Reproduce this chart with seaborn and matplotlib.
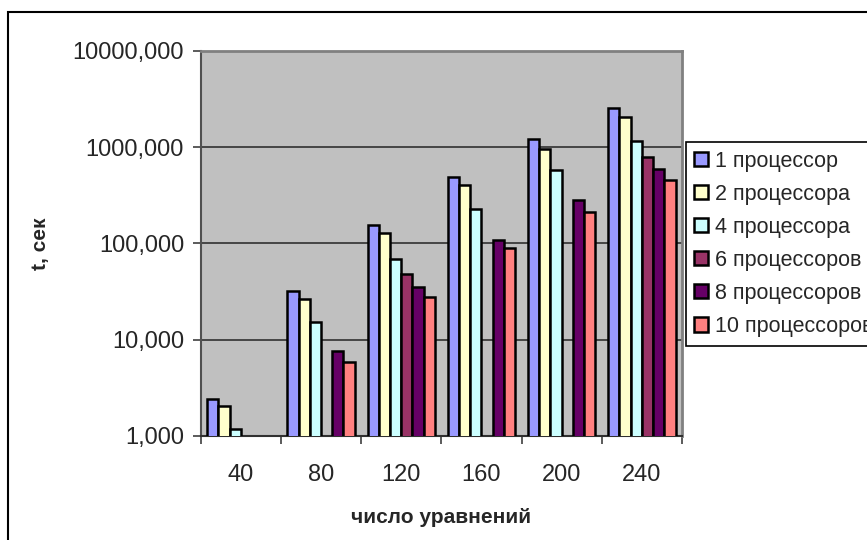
import numpy as np
import pandas as pd
import seaborn as sns
import matplotlib
matplotlib.use("Agg")
import matplotlib.pyplot as plt
from matplotlib.patches import Patch, Rectangle
from matplotlib.ticker import FixedLocator, FuncFormatter

# Число уравнений (категории по оси X)
equations = ["40", "80", "120", "160", "200", "240"]

# Время решения, сек (nan — нет измерения)
proc_1 = [2.42, 32.3, 156.0, 486.0, 1213.0, 2547.0]
proc_2 = [2.06, 26.7, 130.0, 404.0, 962.0, 2070.0]
proc_4 = [1.17, 15.2, 69.0, 226.0, 574.0, 1165.0]
proc_6 = [np.nan, np.nan, 48.5, np.nan, np.nan, 789.0]
proc_8 = [np.nan, 7.6, 35.5, 110.0, 284.0, 593.0]
proc_10 = [np.nan, 5.9, 27.7, 89.0, 210.0, 455.0]

series_names = ["1 процессор", "2 процессора", "4 процессора",
                "6 процессоров", "8 процессоров", "10 процессоров"]
series_values = [proc_1, proc_2, proc_4, proc_6, proc_8, proc_10]
series_colors = ["#9999FF", "#FFFFCC", "#CCFFFF", "#993366", "#660066", "#FF8080"]

rows = []
for name, vals in zip(series_names, series_values):
    for eq, v in zip(equations, vals):
        if not np.isnan(v):
            rows.append({"n": eq, "series": name, "t": v})
df = pd.DataFrame(rows)

sns.set_theme(style="white")
plt.rcParams["font.family"] = ["Liberation Sans", "DejaVu Sans"]

fig = plt.figure(figsize=(8.67, 5.40), dpi=100)
ax = fig.add_axes([0.2315, 0.1926, 0.7866 - 0.2315, 0.9056 - 0.1926])
ax.set_yscale("log")

palette = dict(zip(series_names, series_colors))
sns.barplot(data=df, x="n", y="t", hue="series", order=equations,
            hue_order=series_names, palette=palette, width=0.84,
            edgecolor="black", linewidth=1.8, saturation=1.0,
            ax=ax, legend=False, zorder=3)

ax.set_facecolor("#C0C0C0")
ax.set_ylim(1, 10000)
ax.set_xlim(-0.5, len(equations) - 0.5)

# Ось Y: деления по декадам с запятой как десятичным разделителем
ax.yaxis.set_major_locator(FixedLocator([1, 10, 100, 1000, 10000]))
ax.yaxis.set_minor_locator(FixedLocator([]))
ax.yaxis.set_major_formatter(FuncFormatter(lambda v, p: f"{v:.3f}".replace(".", ",")))
ax.grid(axis="y", which="major", color="#303030", linewidth=1.2, zorder=1)
ax.set_axisbelow(True)

# Ось X: подписи по центру категорий, засечки на границах
ax.xaxis.set_minor_locator(FixedLocator(np.arange(-0.5, len(equations), 1.0)))
ax.tick_params(axis="x", which="major", length=0, pad=20, labelsize=17)
ax.tick_params(axis="x", which="minor", length=6, width=1.2, color="#404040",
               direction="out", bottom=True)
ax.tick_params(axis="y", which="major", length=6, width=1.2, color="#404040",
               direction="out", left=True, pad=6, labelsize=17)

for side in ["top", "right"]:
    ax.spines[side].set_color("#808080")
    ax.spines[side].set_linewidth(2)
ax.spines["left"].set_color("#505050")
ax.spines["left"].set_linewidth(1.5)
ax.spines["bottom"].set_color("#303030")
ax.spines["bottom"].set_linewidth(1.5)

ax.set_xlabel("число уравнений", fontsize=15, fontweight="bold", labelpad=16)
ax.set_ylabel("t, сек", fontsize=15, fontweight="bold", labelpad=16)

handles = [Patch(facecolor=c, edgecolor="black", linewidth=1.8) for c in series_colors]
leg = fig.legend(handles, series_names, loc="upper left",
                 bbox_to_anchor=(0.791, 0.737), fontsize=15.5,
                 frameon=True, fancybox=False, framealpha=1,
                 handlelength=0.65, handleheight=0.65, handletextpad=0.3,
                 labelspacing=0.56, borderpad=0.4, borderaxespad=0)
leg.get_frame().set_edgecolor("black")
leg.get_frame().set_linewidth(1.2)

# Внешняя рамка диаграммы
fig.patches.append(Rectangle((8 / 867, -0.05), 1.2, 1.05 - 12 / 540,
                             transform=fig.transFigure, fill=False,
                             edgecolor="black", linewidth=1.5, zorder=0))

fig.savefig("out.png", dpi=100, facecolor="white")
